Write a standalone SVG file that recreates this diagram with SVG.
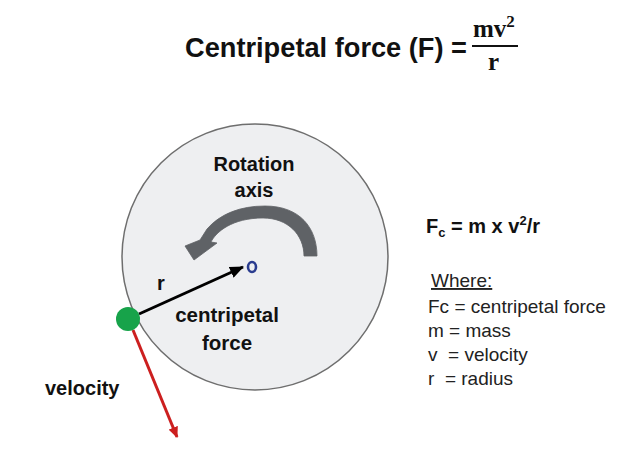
<svg xmlns="http://www.w3.org/2000/svg" width="643" height="467" viewBox="0 0 643 467">
<style>
.b{font-family:"Liberation Sans",Arial,sans-serif;font-weight:bold;fill:#111}
.r{font-family:"Liberation Sans",Arial,sans-serif;fill:#222;white-space:pre}
.s{font-family:"Liberation Serif","Times New Roman",serif;font-weight:bold;fill:#111}
</style>
<defs>
<marker id="ahB" markerUnits="userSpaceOnUse" markerWidth="14" markerHeight="12" refX="13" refY="6" orient="auto"><path d="M0,0 L14,6 L0,12 Z" fill="#000"/></marker>
<marker id="ahR" markerUnits="userSpaceOnUse" markerWidth="11" markerHeight="10" refX="10" refY="5" orient="auto"><path d="M0,0 L11,5 L0,10 Z" fill="#cc1f1f"/></marker>
</defs>
<rect width="643" height="467" fill="#fff"/>
<g id="title">
<text class="b" x="185" y="57" font-size="27" textLength="282" lengthAdjust="spacingAndGlyphs">Centripetal force (F) =</text>
<text class="s" x="473" y="37" font-size="25">mv<tspan font-size="17" dy="-10">2</tspan></text>
<line x1="472" y1="46" x2="518" y2="46" stroke="#111" stroke-width="2"/>
<text class="s" x="488" y="70" font-size="25">r</text>
</g>
<g id="wheel">
<circle cx="255" cy="257" r="133" fill="#eeeff1" stroke="#6e6e6e" stroke-width="1.5"/>
</g>
<g id="rotation-arrow">
<path d="M317,256 C317,228 300,206 265,206 C240,206 220,214 207,229 L200,240 L185,246 L194,260 L217,243 L211,242 C216,232 232,218 263,218 C288,218 304,235 304,256 Z" fill="#5f6266" stroke="#5f6266" stroke-width="0.8" stroke-linejoin="round"/>
</g>
<g id="axis">
<ellipse cx="252" cy="267" rx="4" ry="5" fill="none" stroke="#2a3c8f" stroke-width="2.6"/>
</g>
<g id="connectors">
<line x1="133" y1="330" x2="177" y2="437" stroke="#cc1f1f" stroke-width="3" marker-end="url(#ahR)"/>
<line x1="139" y1="314" x2="243" y2="267" stroke="#000" stroke-width="3" marker-end="url(#ahB)"/>
</g>
<g id="mass">
<circle cx="128" cy="319" r="12" fill="#17a34a"/>
</g>
<g id="labels">
<text class="b" x="254" y="171" font-size="20" text-anchor="middle">Rotation</text>
<text class="b" x="254" y="197" font-size="20" text-anchor="middle">axis</text>
<text class="b" x="157" y="290" font-size="20">r</text>
<text class="b" x="227" y="322" font-size="20.5" text-anchor="middle">centripetal</text>
<text class="b" x="227" y="350" font-size="20.5" text-anchor="middle">force</text>
<text class="b" x="45" y="395" font-size="20">velocity</text>
</g>
<g id="formula">
<text class="b" x="426" y="233" font-size="20">F<tspan font-size="13" dy="4">c</tspan><tspan dy="-4"> = m x v</tspan><tspan font-size="13" dy="-8">2</tspan><tspan dy="8">/r</tspan></text>
<text class="r" x="431" y="287" font-size="19" text-decoration="underline">Where:</text>
<text class="r" x="428" y="313" font-size="19">Fc = centripetal force</text>
<text class="r" x="428" y="337" font-size="19">m = mass</text>
<text class="r" x="428" y="361" font-size="19" xml:space="preserve">v  = velocity</text>
<text class="r" x="428" y="385" font-size="19" xml:space="preserve">r  = radius</text>
</g>
</svg>
